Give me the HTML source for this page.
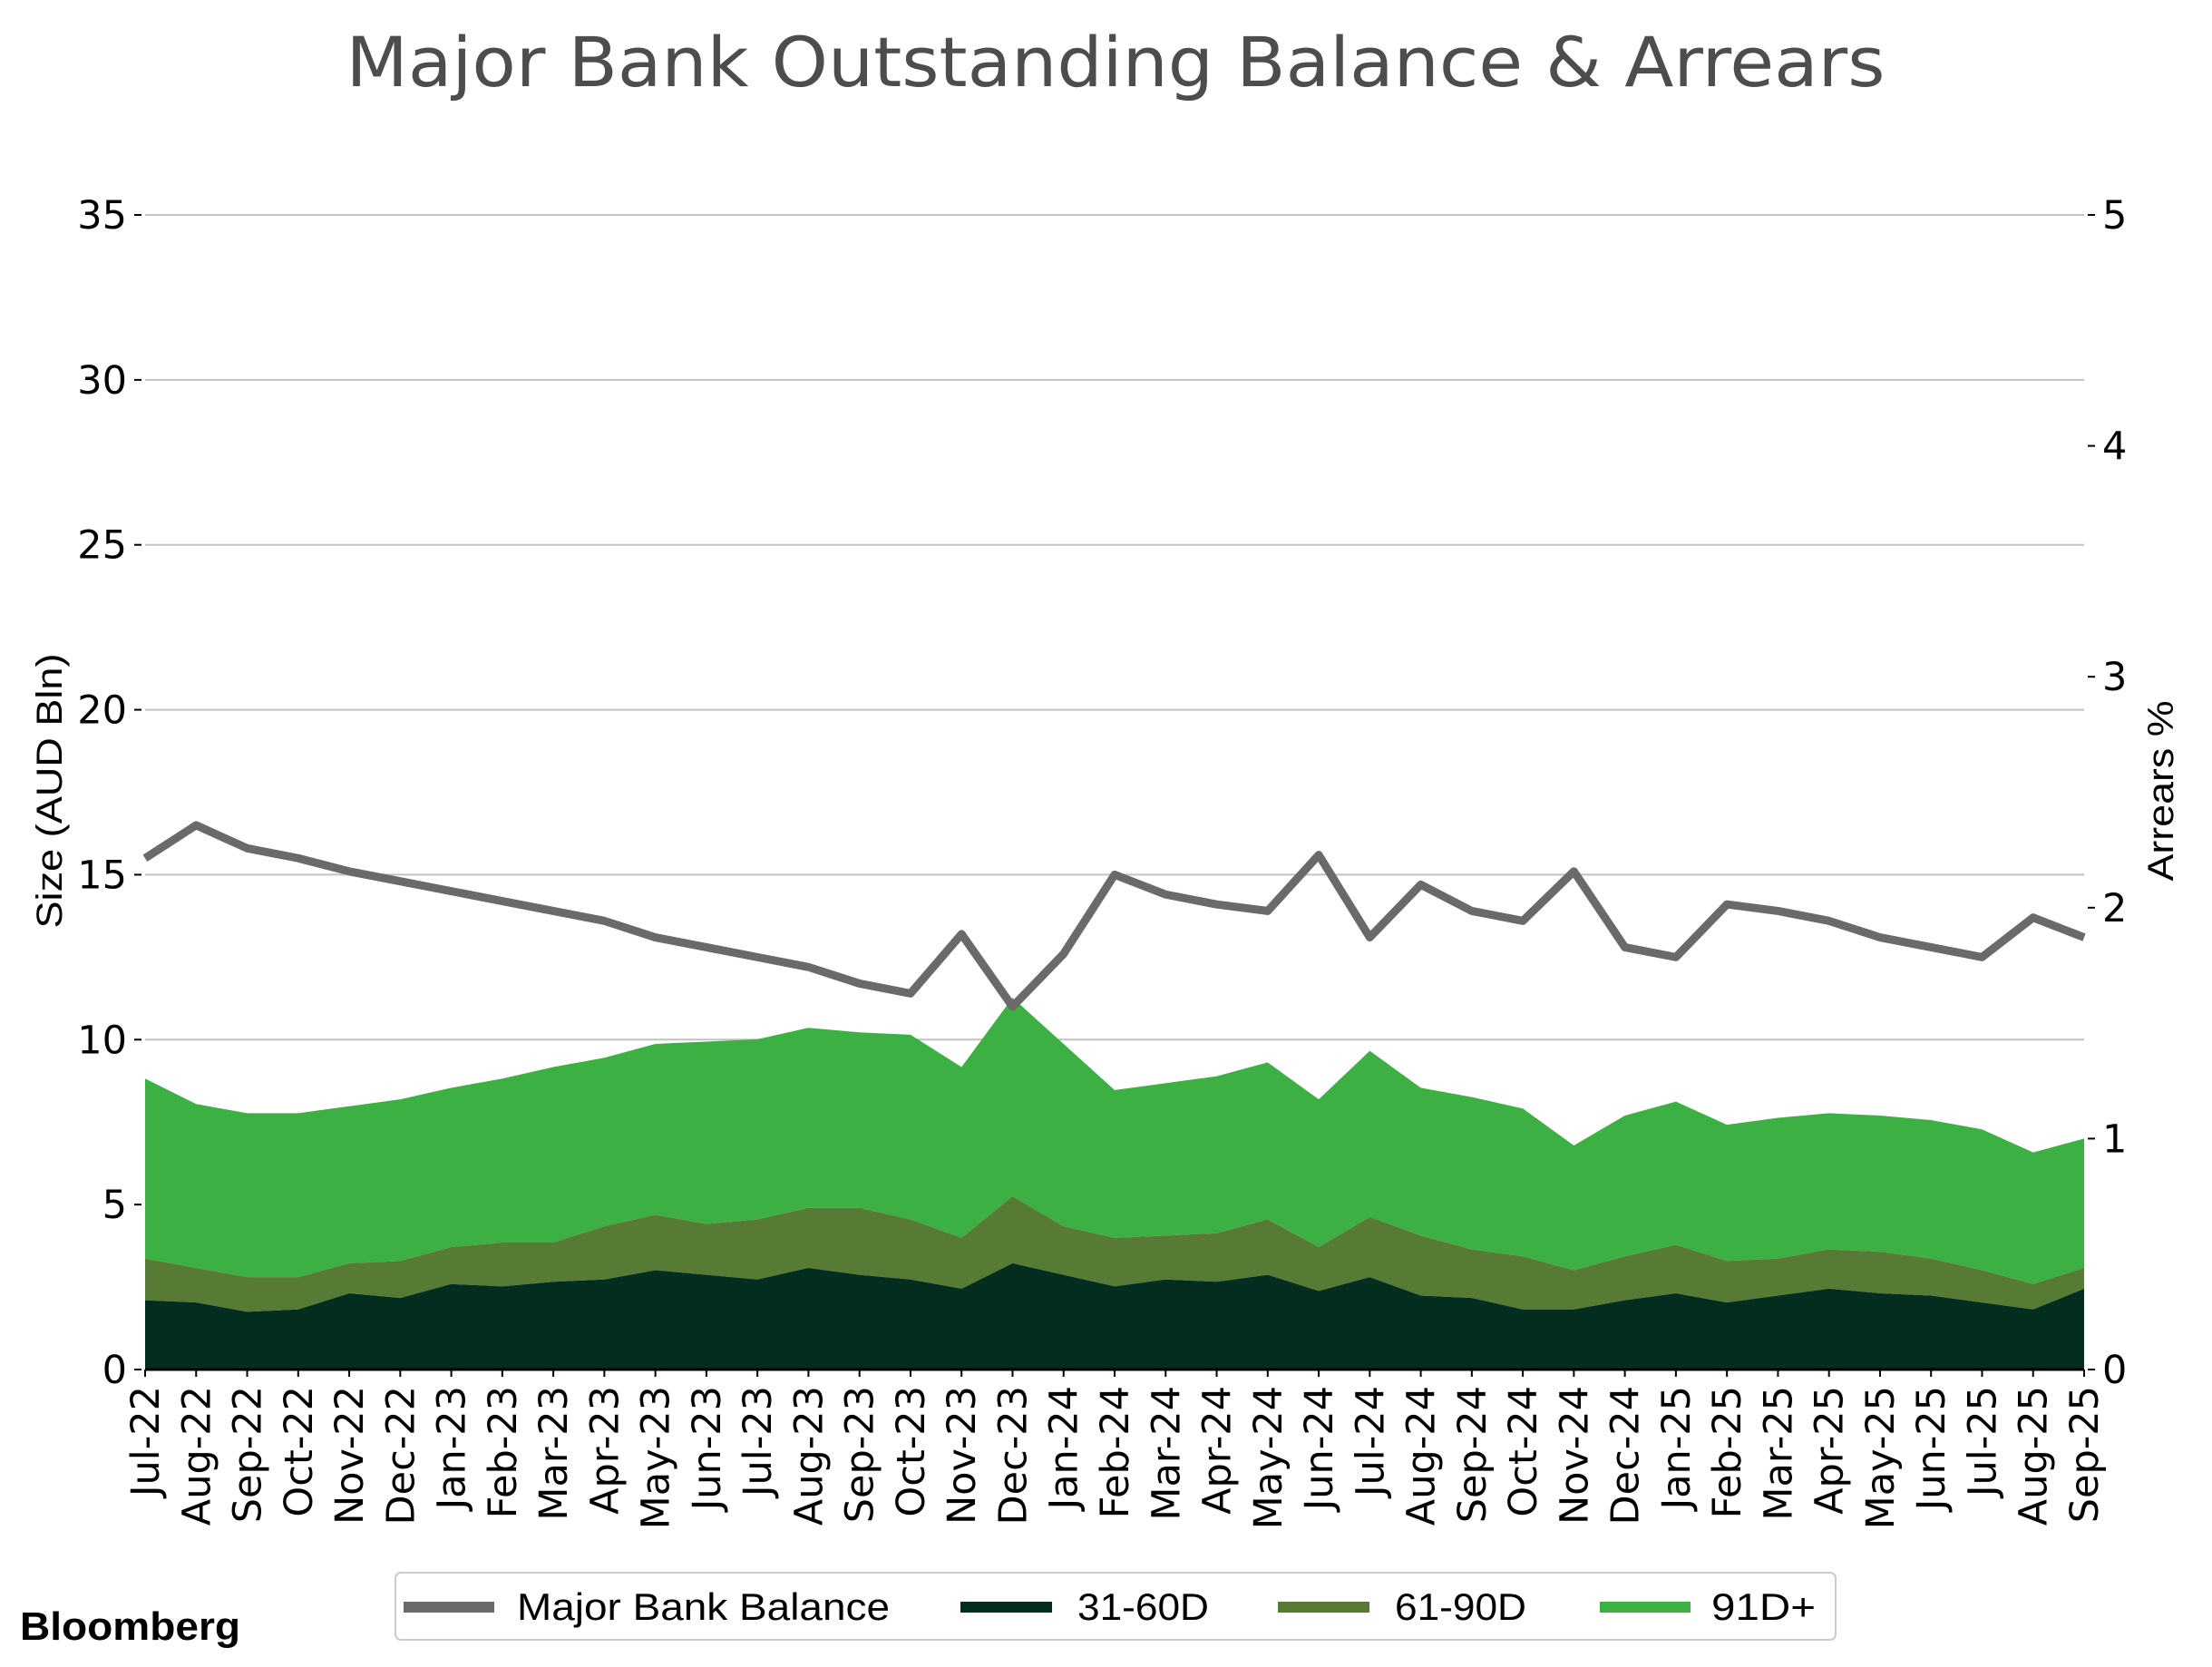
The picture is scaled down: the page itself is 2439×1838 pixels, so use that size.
<!DOCTYPE html>
<html><head><meta charset="utf-8"><style>
html,body{margin:0;padding:0;background:#fff;}
svg{display:block;font-family:"DejaVu Sans","Liberation Sans",sans-serif;}
</style></head><body>
<svg id="chart" width="2439" height="1838" viewBox="0 0 2439 1838" xmlns="http://www.w3.org/2000/svg">
<rect width="2439" height="1838" fill="#fff"/>
<text x="1230" y="95" text-anchor="middle" font-size="76" fill="#4d4d4d" textLength="1697" lengthAdjust="spacingAndGlyphs">Major Bank Outstanding Balance &amp; Arrears</text>
<g id="grid"></g>
<g id="areas"></g>
<g id="lineg"></g>
<g id="axes"></g>
<text transform="translate(68,872) rotate(-90)" text-anchor="middle" font-family="Liberation Sans, sans-serif" font-size="40" fill="#000" textLength="303" lengthAdjust="spacingAndGlyphs">Size (AUD Bln)</text>
<text transform="translate(2396,872) rotate(-90)" text-anchor="middle" font-family="Liberation Sans, sans-serif" font-size="40" fill="#000" textLength="199" lengthAdjust="spacingAndGlyphs">Arrears %</text>
<g font-family="Liberation Sans, sans-serif">
<rect x="436" y="1734" width="1588" height="74" rx="6" fill="#fff" stroke="#ccc" stroke-width="2"/>
<g><rect x="445" y="1766" width="100" height="12" fill="#6a6a6a"/><text x="570" y="1786" font-size="42" textLength="411" lengthAdjust="spacingAndGlyphs">Major Bank Balance</text></g>
<g><rect x="1059" y="1766" width="101" height="12" fill="#032e1f"/><text x="1188" y="1786" font-size="42" textLength="145" lengthAdjust="spacingAndGlyphs">31-60D</text></g>
<g><rect x="1409" y="1766" width="101" height="12" fill="#577b35"/><text x="1538" y="1786" font-size="42" textLength="145" lengthAdjust="spacingAndGlyphs">61-90D</text></g>
<g><rect x="1764" y="1766" width="100" height="12" fill="#3db043"/><text x="1887" y="1786" font-size="42" textLength="115" lengthAdjust="spacingAndGlyphs">91D+</text></g>
</g>
<text x="22" y="1808" font-family="Liberation Sans, sans-serif" font-size="44" font-weight="bold" textLength="243" lengthAdjust="spacingAndGlyphs" fill="#000">Bloomberg</text>
</svg>
<script>
const months = ["Jul-22","Aug-22","Sep-22","Oct-22","Nov-22","Dec-22","Jan-23","Feb-23","Mar-23","Apr-23","May-23","Jun-23","Jul-23","Aug-23","Sep-23","Oct-23","Nov-23","Dec-23","Jan-24","Feb-24","Mar-24","Apr-24","May-24","Jun-24","Jul-24","Aug-24","Sep-24","Oct-24","Nov-24","Dec-24","Jan-25","Feb-25","Mar-25","Apr-25","May-25","Jun-25","Jul-25","Aug-25","Sep-25"];
const balance = [15.5,16.5,15.8,15.5,15.1,14.8,14.5,14.2,13.9,13.6,13.1,12.8,12.5,12.2,11.7,11.4,13.2,11.0,12.6,15.0,14.4,14.1,13.9,15.6,13.1,14.7,13.9,13.6,15.1,12.8,12.5,14.1,13.9,13.6,13.1,12.8,12.5,13.7,13.1];
const d31_60 = [.30,.29,.25,.26,.33,.31,.37,.36,.38,.39,.43,.41,.39,.44,.41,.39,.35,.46,.41,.36,.39,.38,.41,.34,.40,.32,.31,.26,.26,.30,.33,.29,.32,.35,.33,.32,.29,.26,.35];
const d61_90 = [.18,.15,.15,.14,.13,.16,.16,.19,.17,.23,.24,.22,.26,.26,.29,.26,.22,.29,.21,.21,.19,.21,.24,.19,.26,.26,.21,.23,.17,.19,.21,.18,.16,.17,.18,.16,.14,.11,.09];
const d91p = [.78,.71,.71,.71,.68,.70,.69,.71,.76,.73,.74,.79,.78,.78,.76,.80,.74,.86,.79,.64,.66,.68,.68,.64,.72,.64,.66,.64,.54,.61,.62,.59,.61,.59,.59,.60,.61,.57,.56];
const leftTicks = [0,5,10,15,20,25,30,35];
const rightTicks = [0,1,2,3,4,5];

const NS="http://www.w3.org/2000/svg";
const X0=160,X1=2298,Y0=1510,Y35=237;
const xs=i=>X0+(X1-X0)*i/(months.length-1);
const yL=v=>Y0-(Y0-Y35)*v/35;
const yR=v=>Y0-(Y0-Y35)*v/5;
function mk(tag,attrs,parent){const e=document.createElementNS(NS,tag);for(const k in attrs)e.setAttribute(k,attrs[k]);parent.appendChild(e);return e;}
const grid=document.getElementById('grid'),axes=document.getElementById('axes'),areas=document.getElementById('areas'),lineg=document.getElementById('lineg');
leftTicks.forEach(t=>{
  if(t>0){const g=mk('line',{x1:X0,x2:X1,y1:yL(t),y2:yL(t),stroke:'#c2c2c2','stroke-width':2},grid);
  
  }
  mk('line',{x1:X0-12,x2:X0-4,y1:yL(t),y2:yL(t),stroke:'#000','stroke-width':2},axes);
  const tx=mk('text',{x:X0-20,y:yL(t)+15,'text-anchor':'end','font-size':43},axes);
  tx.textContent=t;
  
  
});
rightTicks.forEach(t=>{
  mk('line',{x1:X1+4,x2:X1+12,y1:yR(t),y2:yR(t),stroke:'#000','stroke-width':2},axes);
  const tx=mk('text',{x:X1+20,y:yR(t)+15,'font-size':43},axes);
  tx.textContent=t;
  
  
});
const s1=d31_60.map(v=>v), s2=d31_60.map((v,i)=>v+d61_90[i]), s3=s2.map((v,i)=>v+d91p[i]);
function area(top,bot,color,name){
  let d='M'+months.map((m,i)=>xs(i)+','+yR(top[i])).join('L');
  for(let i=months.length-1;i>=0;i--)d+='L'+xs(i)+','+yR(bot?bot[i]:0);
  const p=mk('path',{d:d+'Z',fill:color},areas);
  
  
}
area(s3,s2,'#3db043','area-91d-plus');
area(s2,s1,'#577b35','area-61-90d');
area(s1,null,'#032e1f','area-31-60d');
const ln=mk('polyline',{points:balance.map((v,i)=>xs(i)+','+yL(v)).join(' '),fill:'none',stroke:'#6a6a6a','stroke-width':9,'stroke-linejoin':'round'},lineg);


mk('line',{x1:X0,x2:X1,y1:Y0,y2:Y0,stroke:'#000','stroke-width':3},axes);
months.forEach((m,i)=>{
  mk('line',{x1:xs(i),x2:xs(i),y1:Y0,y2:Y0+8,stroke:'#000','stroke-width':2},axes);
  const tx=mk('text',{transform:`translate(${xs(i)+15},${Y0+18}) rotate(-90)`,'text-anchor':'end','font-size':43},axes);
  tx.textContent=m;
  
  
});
</script>
</body></html>
